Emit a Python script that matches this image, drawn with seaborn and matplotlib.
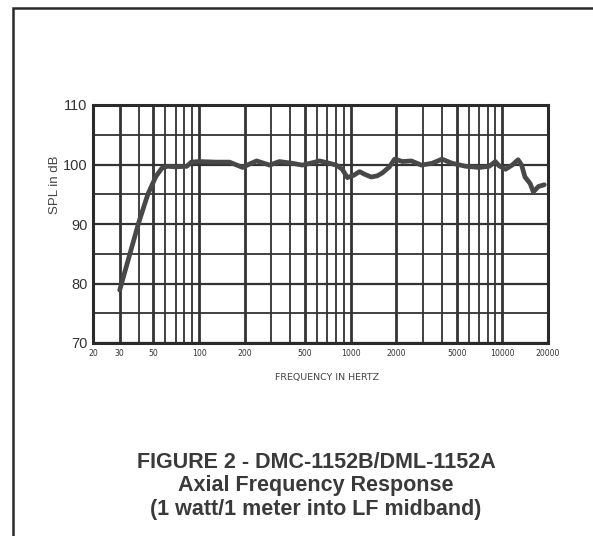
import matplotlib
matplotlib.use("Agg")
import matplotlib.pyplot as plt
import seaborn as sns
import pandas as pd
import numpy as np
from matplotlib.patches import Rectangle

# Data
freq_hz = [30, 40, 46, 52, 57, 62, 70, 83, 89, 100, 130, 159, 194, 216, 240, 292, 339, 413,
           480, 560, 623, 700, 805, 880, 951, 1050, 1143, 1250, 1368, 1500, 1620, 1800,
           1948, 2200, 2513, 2920, 3440, 4000, 4670, 5740, 7040, 8200, 8990, 9500,
           10500, 11600, 12700, 13400, 14100, 15250, 16000, 17300, 18900]
spl_db = [78.9, 90.2, 95.0, 98.0, 99.4, 99.7, 99.6, 99.7, 100.4, 100.5, 100.4, 100.4, 99.5, 100.1,
          100.6, 99.9, 100.5, 100.2, 99.9, 100.3, 100.6, 100.3, 99.9, 99.2, 97.8, 98.2,
          98.8, 98.3, 97.9, 98.1, 98.6, 99.6, 100.9, 100.5, 100.6, 99.9, 100.2, 100.9,
          100.2, 99.7, 99.5, 99.7, 100.5, 99.8, 99.2, 99.9, 100.8, 99.9, 97.9, 96.8,
          95.4, 96.3, 96.6]

x_tick_vals = [20, 30, 50, 100, 200, 500, 1000, 2000, 5000, 10000, 20000]
x_tick_labels = ["20", "30", "50", "100", "200", "500", "1000", "2000", "5000", "10000", "20000"]
y_tick_vals = [70, 80, 90, 100, 110]
caption_lines = ["FIGURE 2 - DMC-1152B/DML-1152A",
                 "Axial Frequency Response",
                 "(1 watt/1 meter into LF midband)"]

df = pd.DataFrame({"freq": freq_hz, "spl": spl_db})

sns.set_style("white")
plt.rcParams["font.family"] = ["Liberation Sans", "DejaVu Sans"]

W, H = 593, 536
fig = plt.figure(figsize=(W / 100, H / 100), dpi=100)
fig.patch.set_facecolor("white")

# outer border (left and top)
fig.add_artist(Rectangle((13 / W, -0.1), 1.2, (1 - 8 / H) + 0.1, transform=fig.transFigure,
                         fill=False, edgecolor="#2a2a2a", linewidth=1.8))

ax = fig.add_axes([93 / W, 1 - 343 / H, (548 - 93) / W, (343 - 105) / H])
ax.set_xscale("log")
ax.set_xlim(20, 20000)
ax.set_ylim(70, 110)

gc = "#333333"
minor_f = []
for dec in [10, 100, 1000, 10000]:
    for m in range(1, 10):
        f = dec * m
        if 20 <= f <= 20000:
            minor_f.append(f)
for f in minor_f:
    lw = 2.0 if f in x_tick_vals else 1.3
    ax.axvline(f, color=gc, lw=lw, zorder=1)
for v in range(70, 111, 5):
    ax.axhline(v, color=gc, lw=1.6 if v % 10 == 0 else 1.3, zorder=1)

sns.lineplot(data=df, x="freq", y="spl", ax=ax, color="#484848", lw=3.4, zorder=3)

ax.set_xticks(x_tick_vals)
ax.set_xticklabels(x_tick_labels, fontsize=5.6, color="#333333", family="DejaVu Sans")
ax.xaxis.set_minor_locator(matplotlib.ticker.NullLocator())
ax.set_yticks(y_tick_vals)
ax.set_yticklabels([str(v) for v in y_tick_vals], fontsize=10.5, color="#333333")
ax.tick_params(axis="both", length=0)
ax.tick_params(axis="y", pad=4)
ax.tick_params(axis="x", pad=4)

for s in ax.spines.values():
    s.set_color("#2a2a2a")
    s.set_linewidth(2.2)

ax.set_xlabel("FREQUENCY IN HERTZ", fontsize=6.8, color="#444444", family="DejaVu Sans")
ax.set_ylabel("SPL in dB", fontsize=9.5, color="#444444")
ax.xaxis.set_label_coords((327 - 93) / 455, (343 - 373) / 238)
ax.yaxis.set_label_coords((61 - 93) / 455, (343 - 185) / 238)

for txt, yc in zip(caption_lines, [462, 486, 510]):
    fig.text(316 / W, 1 - yc / H, txt, ha="center", va="center", fontsize=15.5,
             fontweight="bold", color="#3a3a3a")

fig.savefig("out.png", dpi=100, facecolor="white")
